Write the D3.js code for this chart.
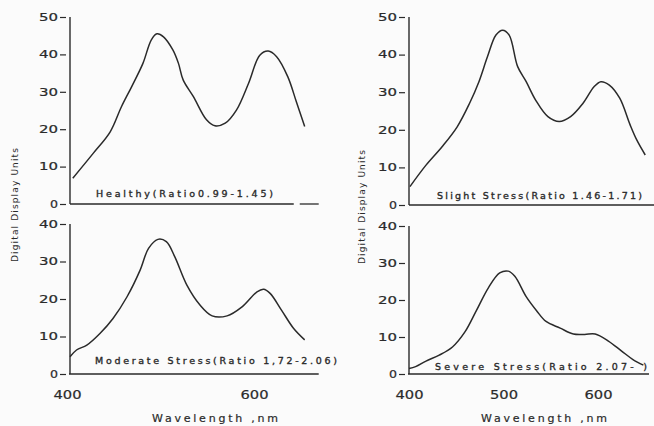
<!DOCTYPE html>
<html><head><meta charset="utf-8">
<script src="https://cdn.jsdelivr.net/npm/d3@7"></script>
<style>
html,body{margin:0;padding:0;background:#fbfbfb;}
svg{display:block;}
text{font-family:"DejaVu Sans",sans-serif;fill:#2a2a2a;}
</style></head>
<body>
<svg id="c" width="654" height="426"></svg>
<script>
// ---- data ----
const healthyNm  = [403,425,443,455,466,478,487,493,500,510,516,521,532,546,555,566,578,591,603,612,621,633,642,651];
const healthyVal = [6.9,13.6,19.3,26,31.4,37.6,43.9,45.5,44.7,41.2,37.6,33.2,28.7,22.5,20.9,21.6,25.1,32.3,39.8,40.9,39.4,34,27.4,20.7];
const moderateNm  = [400,407,418,432,446,461,475,484,494,503,512,525,539,552,568,584,600,607,614,626,639,651];
const moderateVal = [4.6,6.4,7.7,10.8,14.8,20.6,27.7,33.5,35.9,35.3,31.3,23.7,18.4,15.5,15.5,17.9,21.9,22.6,21.5,17.1,12.2,9.1];
const slightNm  = [401,418,435,451,464,474,483,492,499,506,515,524,534,547,559,571,584,596,603,612,623,634,641,650];
const slightVal = [4.9,10.6,15.5,20.8,27,32.8,39.4,45.2,46.5,45.2,36.8,32.8,27.9,23.5,22.2,23.5,27,31.5,32.8,31.9,28.4,21.3,17.3,13.3];
const severeNm  = [400,407,418,432,446,459,471,484,496,505,512,524,535,545,560,574,586,597,611,625,637,648];
const severeVal = [1.5,2,3.5,5.1,7.3,11.3,17,23.3,27.3,27.8,26.4,20.9,17.1,14.2,12.4,10.8,10.7,10.8,8.9,6.2,3.9,2.4];

const topTicks = [0,10,20,30,40,50];
const bottomTicks = [0,10,20,30,40];
const leftXTicks = [400,600];
const rightXTicks = [400,500,600];
const labels = ["Healthy(Ratio0.99-1.45)","Moderate Stress(Ratio 1,72-2.06)","Slight Stress(Ratio 1.46-1.71)","Severe Stress(Ratio 2.07-  )"];
const yTitle = "Digital Display Units";
const xTitle = "Wavelength ,nm";

// ---- layout ----
const svg = d3.select("#c");
const ink = "#2a2a2a";

const xL = d3.scaleLinear().domain([400,600]).range([70,257]);
const xR = d3.scaleLinear().domain([400,600]).range([409,598]);

const panels = [
  {x:xL, y:d3.scaleLinear().domain([0,50]).range([204,17]), nm:healthyNm, v:healthyVal, ticks:topTicks, label:labels[0], lx:96, lw:177, ly:197},
  {x:xL, y:d3.scaleLinear().domain([0,40]).range([374,224]), nm:moderateNm, v:moderateVal, ticks:bottomTicks, label:labels[1], lx:95, lw:242, ly:364},
  {x:xR, y:d3.scaleLinear().domain([0,50]).range([205,17]), nm:slightNm, v:slightVal, ticks:topTicks, label:labels[2], lx:437, lw:205, ly:199},
  {x:xR, y:d3.scaleLinear().domain([0,40]).range([374,226]), nm:severeNm, v:severeVal, ticks:bottomTicks, label:labels[3], lx:435, lw:212, ly:370}
];

function fit(sel, w, mode){
  sel.attr("textLength", w).attr("lengthAdjust", mode||"spacingAndGlyphs");
}

panels.forEach(p=>{
  const ax = p.x(400);
  const g = svg.append("g");
  const yAxis = d3.axisLeft(p.y).tickValues(p.ticks).tickSize(0).tickPadding(12).tickFormat(d3.format("d"));
  const ga = g.append("g").attr("transform",`translate(${ax},0)`).call(yAxis);
  ga.select(".domain").remove();
  ga.selectAll(".tick text").style("font-size","10.5px").style("fill",ink)
    .style("stroke",ink).style("stroke-width","0.2px")
    .each(function(d){ const n=String(d).length; fit(d3.select(this), n===1?8:19); });
  ga.selectAll(".tick").append("line").attr("x1",-10).attr("x2",-4).attr("y1",0).attr("y2",0)
    .attr("stroke",ink).attr("stroke-width",1.2);
  g.append("line").attr("x1",ax).attr("x2",ax).attr("y1",p.y(p.ticks[p.ticks.length-1])).attr("y2",p.y(0))
    .attr("stroke",ink).attr("stroke-width",1.4);
  const pts = p.nm.map((n,i)=>[n,p.v[i]]);
  const line = d3.line().x(d=>p.x(d[0])).y(d=>p.y(d[1])).curve(d3.curveCatmullRom.alpha(0.5));
  g.append("path").attr("d",line(pts)).attr("fill","none").attr("stroke",ink).attr("stroke-width",1.5)
    .attr("stroke-linejoin","round");
  const t = g.append("text").attr("x",p.lx).attr("y",p.ly).text(p.label)
    .style("font-size","9.5px").style("stroke",ink).style("stroke-width","0.35px");
  fit(t, p.lw, "spacing");
});

const hl = (x1,x2,y,w)=>svg.append("line").attr("x1",x1).attr("x2",x2).attr("y1",y).attr("y2",y).attr("stroke",ink).attr("stroke-width",w||1.3);
hl(xL(400), xL(650)-10, panels[0].y(0));
hl(xL(650)-4, xL(666), panels[0].y(0));
hl(xL(400)-1, xL(666), panels[1].y(0), 1.5);
hl(xR(400), 654, panels[2].y(0));
hl(xR(400)-1, xR(654), panels[3].y(0), 1.5);

function xTicks(scale, vals, dx){
  const ga = svg.append("g").attr("transform","translate(0,399)")
    .call(d3.axisBottom(scale).tickValues(vals).tickSize(0).tickPadding(0).tickFormat(d3.format("d")));
  ga.select(".domain").remove();
  ga.selectAll(".tick text").attr("dy",0).attr("y",0).attr("dx",dx).style("font-size","12px").style("fill",ink)
    .style("stroke",ink).style("stroke-width","0.2px")
    .each(function(){ fit(d3.select(this), 28); });
}
xTicks(xL, leftXTicks, -3);
xTicks(xR, rightXTicks, 0);

[[215],[544]].forEach(([cx])=>{
  const t = svg.append("text").attr("x",cx).attr("y",422).attr("text-anchor","middle").text(xTitle)
    .style("font-size","11px").style("stroke",ink).style("stroke-width","0.2px");
  fit(t,126,"spacing");
});
[[15,205],[362,207]].forEach(([cx,cy])=>{
  const t = svg.append("text").attr("transform",`translate(${cx+3},${cy}) rotate(-90)`).attr("text-anchor","middle")
    .text(yTitle).style("font-size","9px");
  fit(t,114,"spacing");
});
</script>
</body></html>
